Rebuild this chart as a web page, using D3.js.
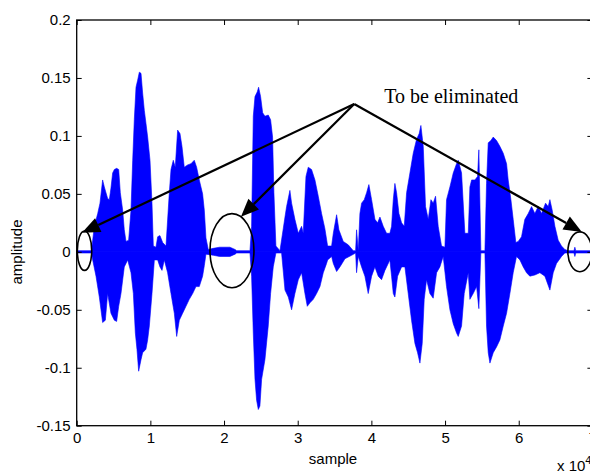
<!DOCTYPE html>
<html>
<head>
<meta charset="UTF-8">
<title>speech waveform</title>
<script src="https://cdnjs.cloudflare.com/ajax/libs/d3/7.8.5/d3.min.js"></script>
<style>
  body { margin: 0; background: #fff; }
  svg { display: block; }
  .axis text { font-family: "Liberation Sans", Arial, sans-serif; font-size: 15px; fill: #000; }
  .axis line { stroke: #000; stroke-width: 1; }
  .axis path { display: none; }
  .lbl { font-family: "Liberation Sans", Arial, sans-serif; font-size: 15px; fill: #000; }
</style>
</head>
<body>
<div id="chart"></div>
<script>
// x axis: sample index, y axis: amplitude
var xTicks = [0, 10000, 20000, 30000, 40000, 50000, 60000, 70000];
var yTicks = [-0.15, -0.1, -0.05, 0, 0.05, 0.1, 0.15, 0.2];

// upper envelope of the waveform [sample, amplitude]
var upperEnv = [[0,0.001],[2000,0.001],[2170,0.010],[2390,0.022],[2850,0.033],[3160,0.042],[3520,0.062],[3750,0.056],[4200,0.046],[4430,0.045],[4650,0.055],[4880,0.068],[5110,0.071],[5420,0.072],[5700,0.071],[5920,0.051],[6240,0.036],[6460,0.019],[6690,0.009],[7050,0.010],[7370,0.036],[7600,0.079],[7820,0.114],[8050,0.142],[8270,0.148],[8500,0.155],[8730,0.154],[8950,0.137],[9180,0.122],[9400,0.111],[9630,0.099],[9950,0.079],[10220,0.042],[10400,0.005],[10760,0.004],[10990,0.013],[11300,0.014],[11670,0.008],[12120,0.005],[12570,0.051],[12800,0.071],[13110,0.079],[13380,0.073],[13700,0.105],[14020,0.102],[14290,0.091],[14600,0.073],[15060,0.075],[15510,0.076],[15960,0.079],[16280,0.073],[16640,0.062],[17090,0.050],[17320,0.036],[17545,0.012],[17860,0.002],[18540,0.003],[19400,0.004],[20800,0.004],[21500,0.002],[21710,0.001],[23520,0.001],[23740,0.022],[23970,0.117],[24200,0.134],[24510,0.138],[24690,0.142],[24960,0.134],[25240,0.120],[25550,0.117],[26000,0.118],[26320,0.114],[26590,0.099],[26770,0.051],[27040,0.005],[27590,0.001],[28270,0.030],[28490,0.039],[28940,0.053],[29170,0.042],[29620,0.028],[30080,0.016],[30530,0.022],[30750,0.016],[31120,0.065],[31430,0.073],[31880,0.071],[32340,0.062],[32790,0.048],[33240,0.033],[33690,0.020],[34060,0.005],[34600,0.005],[34830,0.016],[35280,0.032],[35590,0.019],[36180,0.009],[36860,0.006],[37540,0.001],[37860,0.001],[37990,0.019],[38220,0.001],[38440,0.033],[38670,0.042],[39030,0.045],[39350,0.051],[39660,0.058],[40030,0.045],[40480,0.028],[40840,0.025],[41160,0.030],[41610,0.022],[42060,0.016],[42510,0.016],[42740,0.022],[42970,0.045],[43190,0.059],[43420,0.051],[43740,0.033],[44100,0.025],[44460,0.022],[44780,0.051],[45230,0.068],[45680,0.085],[46130,0.097],[46490,0.102],[46720,0.109],[47040,0.091],[47350,0.039],[47720,0.028],[48080,0.045],[48390,0.042],[48710,0.048],[49070,0.022],[49520,0.005],[49980,0.004],[50200,0.045],[50660,0.056],[51110,0.068],[51560,0.076],[51790,0.079],[52240,0.068],[52690,0.016],[53150,0.016],[53370,0.056],[53600,0.062],[54050,0.062],[54410,0.065],[54590,0.088],[54860,0.001],[55410,0.001],[55630,0.059],[55860,0.094],[56220,0.096],[56540,0.099],[56990,0.096],[57440,0.091],[57900,0.085],[58350,0.076],[58570,0.062],[58940,0.045],[59250,0.028],[59610,0.008],[59930,0.009],[60380,0.013],[60830,0.028],[61290,0.033],[61740,0.039],[62190,0.033],[62640,0.039],[63100,0.033],[63640,0.042],[64000,0.039],[64230,0.045],[64540,0.036],[64910,0.022],[65360,0.010],[65810,0.005],[66260,0.002],[66710,0.001],[67500,0.001],[67620,0.004],[67740,0.001],[70000,0.001]];

// lower envelope of the waveform [sample, amplitude]
var lowerEnv = [[0,-0.001],[2000,-0.001],[2170,-0.007],[2620,-0.021],[3070,-0.039],[3520,-0.061],[3890,-0.059],[4200,-0.036],[4650,-0.053],[5110,-0.059],[5420,-0.060],[5700,-0.047],[6010,-0.036],[6460,-0.013],[6920,-0.007],[7370,-0.018],[7690,-0.036],[7960,-0.070],[8180,-0.084],[8410,-0.103],[8730,-0.093],[8950,-0.087],[9400,-0.084],[9630,-0.076],[9860,-0.064],[10220,-0.036],[10540,-0.007],[10990,-0.007],[11300,-0.013],[11580,-0.016],[11890,-0.007],[12340,-0.018],[12800,-0.036],[13250,-0.053],[13570,-0.073],[13930,-0.059],[14380,-0.053],[14830,-0.047],[15280,-0.041],[15740,-0.036],[16190,-0.030],[16640,-0.030],[17090,-0.021],[17320,-0.012],[17545,-0.002],[18540,-0.003],[19400,-0.004],[20800,-0.004],[21500,-0.002],[21710,-0.001],[23520,-0.001],[23740,-0.021],[23970,-0.070],[24200,-0.110],[24420,-0.128],[24650,-0.136],[24870,-0.133],[25100,-0.110],[25550,-0.093],[26000,-0.064],[26320,-0.036],[26680,-0.013],[27040,-0.001],[27810,-0.001],[28270,-0.033],[28720,-0.039],[29170,-0.050],[29620,-0.036],[30080,-0.024],[30530,-0.018],[30980,-0.036],[31300,-0.047],[31660,-0.044],[32110,-0.041],[32560,-0.036],[33020,-0.030],[33470,-0.018],[33920,-0.010],[34060,-0.007],[34600,-0.004],[34830,-0.010],[35280,-0.017],[35730,-0.013],[36410,-0.006],[37310,-0.003],[37860,-0.001],[37990,-0.018],[38220,-0.004],[38670,-0.013],[39120,-0.021],[39570,-0.036],[40030,-0.021],[40480,-0.013],[40930,-0.021],[41380,-0.024],[41840,-0.016],[42510,-0.007],[42740,-0.021],[42970,-0.036],[43190,-0.039],[43560,-0.021],[44100,-0.013],[44550,-0.013],[45000,-0.036],[45450,-0.059],[45910,-0.079],[46270,-0.087],[46590,-0.096],[46900,-0.079],[47170,-0.041],[47490,-0.024],[47940,-0.036],[48390,-0.040],[48850,-0.018],[49300,-0.013],[49750,-0.004],[50200,-0.030],[50660,-0.050],[51110,-0.062],[51560,-0.070],[51790,-0.073],[52240,-0.064],[52600,-0.036],[53150,-0.018],[53370,-0.041],[53820,-0.036],[54280,-0.030],[54590,-0.049],[54860,-0.001],[55410,-0.001],[55630,-0.064],[55860,-0.087],[56090,-0.096],[56540,-0.087],[56990,-0.082],[57440,-0.076],[57900,-0.064],[58350,-0.053],[58800,-0.036],[59250,-0.018],[59700,-0.004],[60160,-0.007],[60610,-0.013],[61060,-0.018],[61510,-0.021],[62190,-0.020],[62870,-0.018],[63550,-0.021],[64230,-0.033],[64680,-0.018],[65130,-0.010],[65810,-0.004],[66260,-0.001],[67500,-0.001],[67620,-0.004],[67740,-0.001],[70000,-0.001]];

// annotation: silent parts to be eliminated (data coords)
var noteText = "To be eliminated";
var notePos = [41740, 0.128];
var arrowFrom = [37670, 0.1276];
var arrowTo = [[720, 0.0164], [22295, 0.0302], [68570, 0.0172]];
var silentParts = [
  {cx: 1060, cy: 0.001, rx: 977, ry: 0.017},
  {cx: 21075, cy: 0.001, rx: 2985, ry: 0.032},
  {cx: 68300, cy: 0.000, rx: 1630, ry: 0.0172}
];

var layout = {
  width: 590, height: 472,
  marginLeft: 76.7, marginTop: 20, plotW: 515.7, plotH: 405.7
};

var svg = d3.select('#chart').append('svg')
  .attr('width', layout.width)
  .attr('height', layout.height);

var x = d3.scaleLinear().domain([0, 70000]).range([layout.marginLeft, layout.marginLeft + layout.plotW]);
var y = d3.scaleLinear().domain([-0.15, 0.2]).range([layout.marginTop + layout.plotH, layout.marginTop]);

var blue = '#0000ff';

// zero line (silence shows as a thin line)
svg.append('line')
  .attr('x1', x(0)).attr('x2', x(70000))
  .attr('y1', y(0)).attr('y2', y(0))
  .attr('stroke', blue).attr('stroke-width', 1);

// waveform envelope
var upperArea = d3.area()
  .x(function(d) { return x(d[0]); })
  .y0(y(0))
  .y1(function(d) { return y(d[1]); });
var lowerArea = d3.area()
  .x(function(d) { return x(d[0]); })
  .y0(function(d) { return y(d[1]); })
  .y1(y(0));

svg.append('path').datum(upperEnv).attr('d', upperArea).attr('fill', blue).attr('stroke', blue).attr('stroke-width', 0.6);
svg.append('path').datum(lowerEnv).attr('d', lowerArea).attr('fill', blue).attr('stroke', blue).attr('stroke-width', 0.6);

// axes (ticks point inward)
var fmtY = function(d) { return String(+d.toFixed(2)); };
var fmtX = function(d) { return String(d / 10000); };

svg.append('g').attr('class', 'axis')
  .attr('transform', 'translate(0,' + y(-0.15) + ')')
  .call(d3.axisBottom(x).tickValues(xTicks).tickFormat(fmtX).tickSizeInner(-5).tickSizeOuter(0).tickPadding(7));
svg.append('g').attr('class', 'axis')
  .attr('transform', 'translate(0,' + y(0.2) + ')')
  .call(d3.axisTop(x).tickValues(xTicks).tickFormat('').tickSizeInner(-5).tickSizeOuter(0));
svg.append('g').attr('class', 'axis')
  .attr('transform', 'translate(' + x(0) + ',0)')
  .call(d3.axisLeft(y).tickValues(yTicks).tickFormat(fmtY).tickSizeInner(-5).tickSizeOuter(0).tickPadding(6));
svg.append('g').attr('class', 'axis')
  .attr('transform', 'translate(' + x(70000) + ',0)')
  .call(d3.axisRight(y).tickValues(yTicks).tickFormat('').tickSizeInner(-5).tickSizeOuter(0));

// frame
svg.append('rect')
  .attr('x', x(0)).attr('y', y(0.2))
  .attr('width', x(70000) - x(0)).attr('height', y(-0.15) - y(0.2))
  .attr('fill', 'none').attr('stroke', '#000').attr('stroke-width', 1.3);

// labels
svg.append('text').attr('class', 'lbl')
  .attr('x', 333).attr('y', 464).attr('text-anchor', 'middle')
  .text('sample');
svg.append('text').attr('class', 'lbl')
  .attr('transform', 'translate(22,252) rotate(-90)')
  .attr('text-anchor', 'middle')
  .text('amplitude');
var mult = svg.append('text').attr('class', 'lbl')
  .attr('x', 557).attr('y', 471);
mult.append('tspan').text('x 10');
mult.append('tspan').attr('dy', -7).attr('font-size', 11).text('4');

// annotation ellipses
svg.selectAll('.silent').data(silentParts).enter().append('ellipse')
  .attr('class', 'silent')
  .attr('cx', function(d) { return x(d.cx); })
  .attr('cy', function(d) { return y(d.cy); })
  .attr('rx', function(d) { return x(d.rx) - x(0); })
  .attr('ry', function(d) { return y(0) - y(d.ry); })
  .attr('fill', 'none').attr('stroke', '#000').attr('stroke-width', 1.6);

// arrows
var ax = x(arrowFrom[0]), ay = y(arrowFrom[1]);
arrowTo.forEach(function(t) {
  var tx = x(t[0]), ty = y(t[1]);
  var dx = tx - ax, dy = ty - ay, len = Math.sqrt(dx * dx + dy * dy);
  var ux = dx / len, uy = dy / len;
  var headL = 18, headW = 7.5;
  var bx = tx - ux * headL, by = ty - uy * headL;
  svg.append('line')
    .attr('x1', ax).attr('y1', ay).attr('x2', bx).attr('y2', by)
    .attr('stroke', '#000').attr('stroke-width', 2.2);
  svg.append('path')
    .attr('d', 'M' + tx + ',' + ty +
      'L' + (bx - uy * headW) + ',' + (by + ux * headW) +
      'L' + (bx + uy * headW) + ',' + (by - ux * headW) + 'Z')
    .attr('fill', '#000');
});

svg.append('text')
  .attr('x', x(notePos[0])).attr('y', y(notePos[1]))
  .attr('font-family', '"Liberation Serif", "Times New Roman", serif')
  .attr('font-size', 20)
  .attr('fill', '#000')
  .text(noteText);
</script>
</body>
</html>
